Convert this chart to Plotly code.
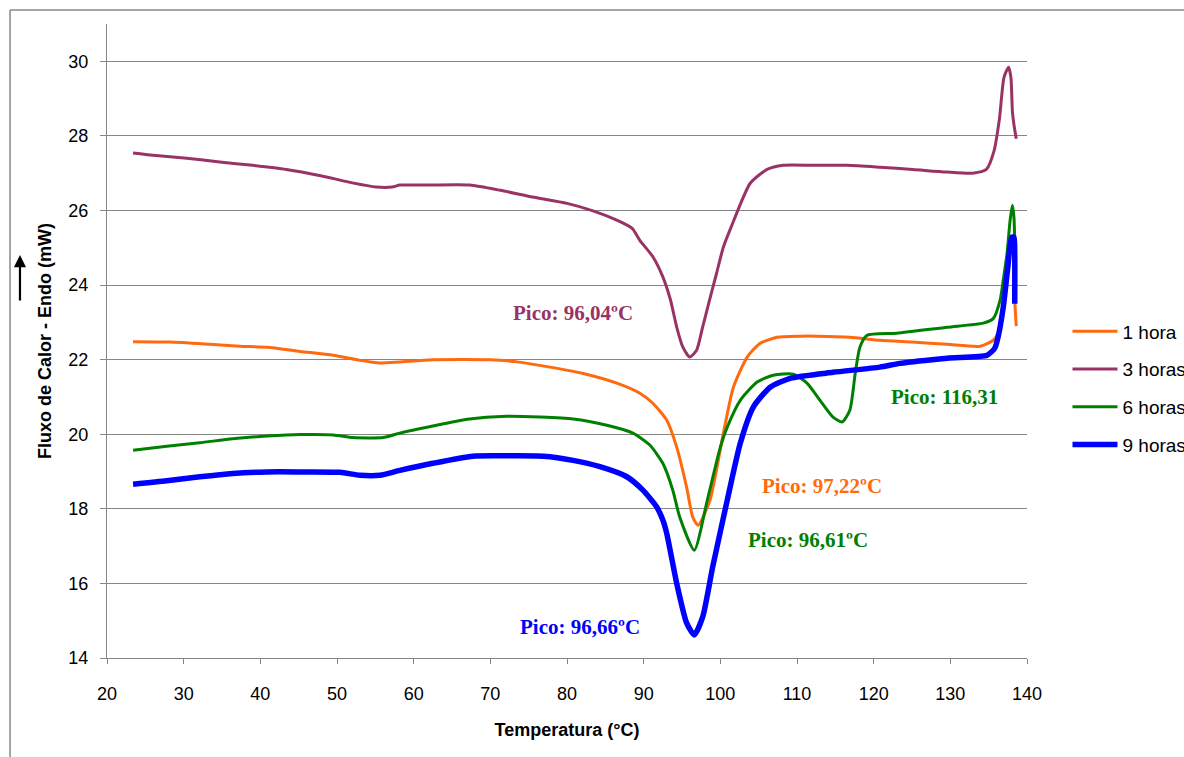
import plotly.graph_objects as go

# ---- data (temperature in °C, heat flow in mW) ----
t_1h = [23.4, 28.2, 33.4, 37.3, 40.9, 45.2, 49.5, 53.0, 55.6, 58.2, 62.5, 70.0, 73.5, 77.8, 82.1, 86.5,
        89.5, 91.2, 93.0, 94.3, 95.6, 96.4, 97.1, 98.65, 100.4, 101.7, 103.5, 105.2, 107.4, 110.4, 112.6,
        116.9, 120.8, 125.0, 129.6, 133.9, 135.6, 136.2, 136.9, 137.5, 137.9, 138.2, 138.4, 138.6]
v_1h = [22.48, 22.47, 22.41, 22.36, 22.33, 22.22, 22.12, 21.98, 21.91, 21.94, 22.0, 22.0, 21.94, 21.8, 21.63, 21.37,
        21.1, 20.83, 20.38, 19.66, 18.58, 17.78, 17.56, 18.23, 20.03, 21.26, 22.07, 22.44, 22.6, 22.63, 22.63,
        22.6, 22.52, 22.47, 22.41, 22.36, 22.52, 22.7, 23.4, 24.4, 25.0, 24.9, 23.6, 22.9]

t_3h = [23.4, 26.0, 30.4, 34.7, 39.0, 43.4, 47.7, 52.0, 55.1, 57.2, 58.2, 62.0, 67.3, 71.3, 75.5, 80.0,
        83.4, 86.5, 88.5, 89.5, 91.2, 92.5, 93.5, 94.3, 95.1, 96.0, 96.9, 97.7, 98.6, 99.5, 100.4, 101.5,
        103.9, 106.1, 108.2, 112.0, 116.6, 120.8, 125.1, 129.5, 132.9, 134.7, 135.7, 136.4, 137.0, 137.6,
        137.9, 138.1, 138.3, 138.6]
v_3h = [27.54, 27.48, 27.4, 27.3, 27.21, 27.1, 26.94, 26.74, 26.63, 26.63, 26.68, 26.68, 26.68, 26.54, 26.36, 26.19,
        25.99, 25.74, 25.52, 25.2, 24.76, 24.22, 23.6, 22.88, 22.34, 22.07, 22.25, 22.88, 23.6, 24.31, 25.02, 25.6,
        26.73, 27.1, 27.21, 27.21, 27.21, 27.16, 27.1, 27.03, 27.0, 27.1, 27.6, 28.45, 29.57, 29.84,
        29.57, 28.65, 28.3, 27.92]

t_6h = [23.4, 27.8, 32.1, 36.4, 40.9, 45.2, 49.5, 52.1, 56.0, 58.2, 62.5, 67.0, 72.2, 76.5, 80.8, 85.2,
        88.6, 90.8, 92.5, 93.8, 94.7, 96.6, 98.3, 100.0, 100.9, 102.6, 104.8, 106.9, 109.5, 111.3, 113.0,
        114.7, 115.9, 116.9, 117.6, 118.2, 119.1, 123.0, 129.6, 134.3, 135.6, 136.5, 136.9, 137.4, 137.8,
        138.1, 138.3, 138.5]
v_6h = [19.57, 19.68, 19.77, 19.88, 19.95, 19.99, 19.98, 19.91, 19.91, 20.03, 20.22, 20.4, 20.48, 20.46, 20.41, 20.24,
        20.03, 19.71, 19.22, 18.5, 17.78, 16.89, 18.23, 19.65, 20.19, 20.91, 21.4, 21.58, 21.61, 21.37, 20.91,
        20.46, 20.33, 20.65, 21.64, 22.33, 22.65, 22.71, 22.87, 22.98, 23.1, 23.6, 24.13, 24.85, 25.74,
        26.14, 25.8, 24.2]

t_9h = [23.4, 27.8, 32.1, 36.4, 40.9, 45.2, 50.4, 53.0, 55.6, 58.2, 62.5, 67.7, 72.2, 76.9, 80.8, 84.3,
        87.8, 89.9, 91.7, 92.5, 93.0, 94.3, 95.6, 96.6, 97.7, 99.0, 100.9, 102.6, 104.3, 106.5, 109.1,
        114.7, 120.8, 123.4, 129.6, 134.8, 135.8, 136.2, 136.9, 137.5, 138.0, 138.3, 138.4, 138.4]
v_9h = [18.66, 18.75, 18.86, 18.95, 18.99, 18.99, 18.98, 18.9, 18.9, 19.03, 19.22, 19.41, 19.42, 19.41, 19.3, 19.13,
        18.86, 18.5, 18.05, 17.7, 17.35, 16.01, 14.94, 14.62, 15.1, 16.44, 18.23, 19.76, 20.73, 21.26, 21.5,
        21.66, 21.8, 21.9, 22.04, 22.12, 22.31, 22.58, 23.4, 24.48, 25.28, 25.28, 24.85, 23.5]

series_names = ["1 hora", "3 horas", "6 horas", "9 horas"]
series_t = [t_1h, t_3h, t_6h, t_9h]
series_v = [v_1h, v_3h, v_6h, v_9h]
series_colors = ["#FF6A0E", "#993366", "#008000", "#0000FF"]
series_widths = [3, 3, 3, 5.5]

peak_labels = ["Pico: 96,04ºC", "Pico: 97,22ºC", "Pico: 96,61ºC", "Pico: 96,66ºC", "Pico: 116,31"]
peak_x = [80.8, 113.3, 111.4, 81.7, 129.2]
peak_y = [23.25, 18.6, 17.16, 14.83, 21.0]
peak_colors = ["#993366", "#FF6A0E", "#008000", "#0000FF", "#008000"]

x_ticks = list(range(20, 141, 10))
y_ticks = list(range(14, 31, 2))

fig = go.Figure()
for name, t, v, c, w in zip(series_names, series_t, series_v, series_colors, series_widths):
    fig.add_trace(go.Scatter(x=t, y=v, mode="lines", name=name, legendgroup=name,
                             line=dict(color=c, width=w, shape="spline", smoothing=0.6)))

for txt, x, y, c in zip(peak_labels, peak_x, peak_y, peak_colors):
    fig.add_annotation(x=x, y=y, text=f"<b>{txt}</b>", showarrow=False,
                       font=dict(family="Liberation Serif", size=21, color=c))

axis_font = dict(family="Liberation Sans", size=18, color="#000000")

fig.update_layout(
    width=1184, height=757,
    margin=dict(l=107, r=157, t=24, b=99, autoexpand=False),
    paper_bgcolor="white", plot_bgcolor="white",
    showlegend=True,
    legend=dict(x=1.044, xanchor="left", y=0.545, yanchor="top",
                font=dict(family="Liberation Sans", size=19, color="#000000"),
                tracegroupgap=10, itemwidth=45, bgcolor="rgba(0,0,0,0)"),
    xaxis=dict(range=[20, 140], tickvals=x_ticks, ticks="outside", ticklen=5,
               tickcolor="#868686", showline=True, linecolor="#868686", linewidth=1,
               showgrid=False, zeroline=False, tickfont=axis_font, ticklabelstandoff=14,
               title=dict(text="<b>Temperatura (°C)</b>", standoff=20,
                          font=dict(family="Liberation Sans", size=18, color="#000000"))),
    yaxis=dict(range=[14, 31], tickvals=y_ticks, ticks="outside", ticklen=6,
               tickcolor="#868686", showline=True, linecolor="#868686", linewidth=1,
               showgrid=True, gridcolor="#868686", gridwidth=1, zeroline=False,
               tickfont=axis_font, ticklabelstandoff=8,
               title=dict(text="<b>Fluxo de Calor - Endo (mW)</b>", standoff=12,
                          font=dict(family="Liberation Sans", size=18, color="#000000"))),
)

# outer chart frame (top and left edges visible)
fig.add_shape(type="line", xref="paper", yref="paper", x0=-0.1054, x1=1.25, y0=1.0221, y1=1.0221,
              line=dict(color="#888888", width=1.5))
fig.add_shape(type="line", xref="paper", yref="paper", x0=-0.1054, x1=-0.1054, y0=1.0221, y1=-0.2,
              line=dict(color="#888888", width=1.5))

# endothermic direction arrow
fig.add_annotation(xref="paper", yref="paper", x=-0.0946, y=0.6356, ax=0, ay=47,
                   text="", showarrow=True, arrowhead=2, arrowsize=1.1, arrowwidth=2.2,
                   arrowcolor="#000000")

fig.write_html("out.html")
